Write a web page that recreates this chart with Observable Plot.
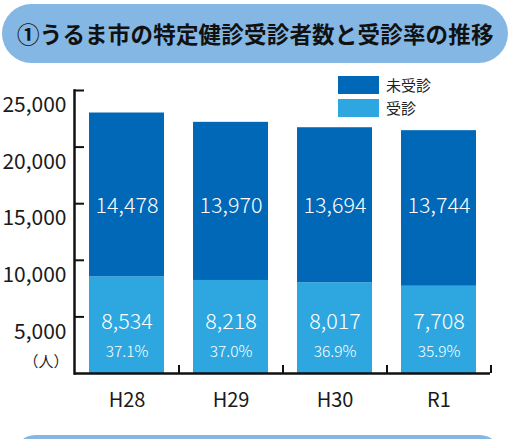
<!DOCTYPE html>
<html><head><meta charset="utf-8">
<script src="https://cdn.jsdelivr.net/npm/d3@7"></script>
<script src="https://cdn.jsdelivr.net/npm/@observablehq/plot@0.6"></script>
<style>
html,body{margin:0;padding:0;background:#fff;overflow:hidden;}
#wrap{position:relative;width:515px;height:439px;overflow:hidden;font-family:"Noto Sans CJK JP","Noto Sans",sans-serif;}
.pill{position:absolute;background:#85b7e4;border-radius:30px;}
#title{left:2px;top:4px;width:506px;height:59px;}
#title span{position:absolute;left:15px;top:0;line-height:59px;font-size:22.5px;font-weight:700;color:#111;white-space:nowrap;letter-spacing:0.2px;}
#bottom{left:15px;top:435px;width:485px;height:40px;}
#chart{position:absolute;left:0;top:70px;}
#legend{position:absolute;left:338px;top:76px;width:120px;font-size:15px;color:#222;z-index:2;font-weight:400;}
.li{position:relative;height:23px;}
.sw{position:absolute;left:0;top:0;width:41px;height:18px;}
.lt{position:absolute;left:48px;top:-2px;line-height:22px;white-space:nowrap;}
</style></head>
<body><div id="wrap">
<div class="pill" id="title"><span>①うるま市の特定健診受診者数と受診率の推移</span></div>
<div id="chart"></div>
<div id="legend"></div>
<div class="pill" id="bottom"></div>
</div>
<script>
const years = ["H28", "H29", "H30", "R1"];
const unexamined = [14478, 13970, 13694, 13744];
const examined = [8534, 8218, 8017, 7708];
const rates = ["37.1%", "37.0%", "36.9%", "35.9%"];
const series = ["未受診", "受診"];
const colors = ["#0068b7", "#2ea7e0"];
const yTicks = [5000, 10000, 15000, 20000, 25000];
const unitLabel = "（人）";

const table = [];
years.forEach((yr, i) => {
  table.push({year: yr, status: "受診", count: examined[i], rate: rates[i]});
  table.push({year: yr, status: "未受診", count: unexamined[i], rate: rates[i]});
});
const lower = table.filter(d => d.status === "受診");
const upper = table.filter(d => d.status === "未受診");
const fmt = d3.format(",");

const plot = Plot.plot({
  width: 515,
  height: 350,
  marginTop: 20,
  marginBottom: 47,
  marginLeft: 74,
  marginRight: 25,
  style: {fontFamily: '"Noto Sans CJK JP","Noto Sans",sans-serif', background: "transparent", fontWeight: 300},
  x: {domain: years, paddingInner: 0.28, paddingOuter: 0.14, axis: null, label: null},
  y: {domain: [0, 25000], axis: null, label: null},
  color: {domain: series, range: colors},
  marks: [
    Plot.barY(table, {x: "year", y: "count", fill: "status", order: ["受診", "未受診"]}),
    Plot.text(upper, {x: "year", text: d => fmt(d.count), frameAnchor: "top", dy: 107, fill: "white", fontSize: 21.5, fontWeight: 300}),
    Plot.text(lower, {x: "year", text: d => fmt(d.count), frameAnchor: "bottom", dy: -45, fill: "white", fontSize: 21.5, fontWeight: 300}),
    Plot.text(lower, {x: "year", text: "rate", frameAnchor: "bottom", dy: -17, fill: "white", fontSize: 15.5, fontWeight: 300}),
    Plot.axisY({ticks: yTicks, tickSize: 0, tickPadding: 8, tickFormat: fmt, dy: 15, fontSize: 21, fill: "#1a1a1a", label: null, fontWeight: 400}),
    Plot.axisY({ticks: yTicks, tickSize: -10, text: null, strokeWidth: 2, stroke: "#111", label: null}),
    Plot.axisX({tickSize: -8, text: null, dx: 52, strokeWidth: 2, stroke: "#111", label: null}),
    Plot.axisX({tickSize: 0, tickPadding: 19, fontSize: 20, fill: "#1a1a1a", label: null, fontWeight: 400}),
    Plot.text([unitLabel], {frameAnchor: "bottom-left", dx: -6, dy: -7, textAnchor: "end", fontSize: 15, fill: "#222", fontWeight: 400}),
    Plot.ruleY([0], {stroke: "#111", strokeWidth: 2.5}),
    Plot.frame({anchor: "left", stroke: "#111", strokeWidth: 2.5})
  ]
});
document.getElementById("chart").appendChild(plot);

const legend = document.getElementById("legend");
series.forEach((s, i) => {
  const row = document.createElement("div");
  row.className = "li";
  row.innerHTML = `<div class="sw" style="background:${colors[i]}"></div><div class="lt">${s}</div>`;
  legend.appendChild(row);
});
</script>
</body></html>
